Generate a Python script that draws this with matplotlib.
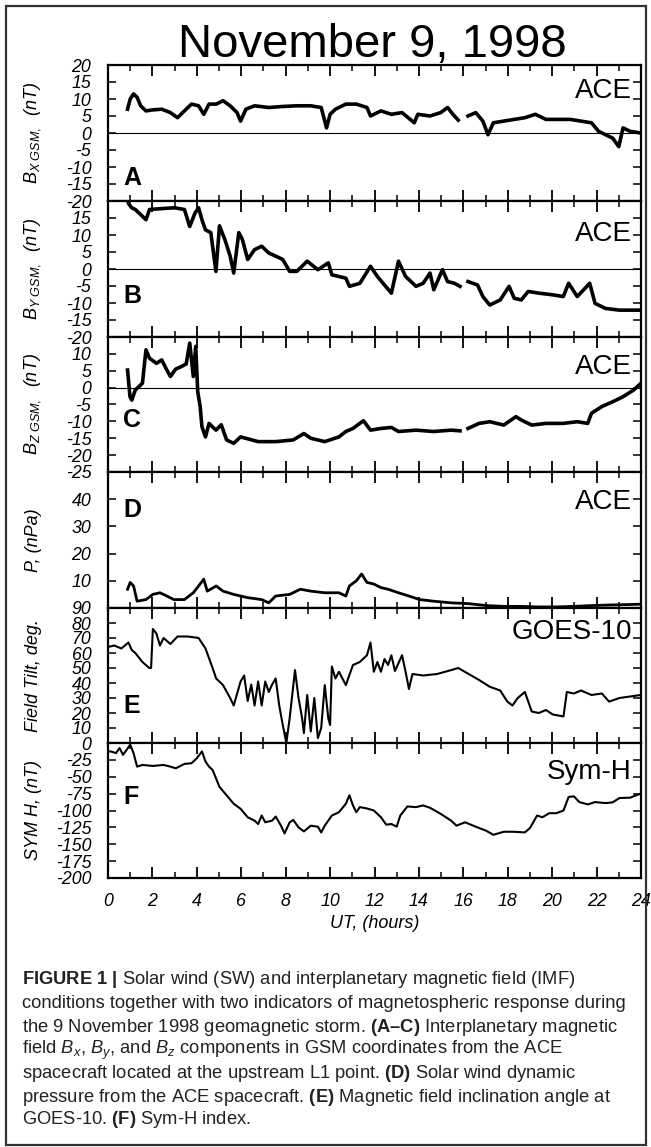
import numpy as np
import matplotlib
matplotlib.use('Agg')
import matplotlib.pyplot as plt
from matplotlib.patches import Rectangle
from matplotlib.ticker import MultipleLocator

plt.rcParams['font.family'] = ['Liberation Sans', 'DejaVu Sans']
plt.rcParams['mathtext.fontset'] = 'custom'
plt.rcParams['mathtext.rm'] = 'Liberation Sans'
plt.rcParams['mathtext.it'] = 'Liberation Sans:italic'
plt.rcParams['mathtext.bf'] = 'Liberation Sans:bold'

nan = np.nan

# ---------------- data ----------------
bx_t = [0.88,1.0,1.15,1.31,1.47,1.71,2.02,2.42,2.81,3.13,3.44,3.76,4.08,4.31,4.55,4.87,5.18,5.5,5.81,5.97,
        6.21,6.6,7.24,7.87,8.5,9.13,9.6,9.84,10.0,10.24,10.71,11.18,11.66,11.82,12.29,12.76,13.24,13.79,13.95,14.5,
        14.98,15.29,15.53,15.77,15.9,16.21,16.56,16.88,17.11,17.35,17.82,18.29,18.77,19.24,19.72,20.19,20.82,21.29,
        21.77,22.09,22.4,22.72,23.0,23.19,23.51,23.98]
bx_v = [7,10,11.5,10.5,8,6.5,6.8,7,6,4.5,6.5,8.5,8,5.5,8.5,8.5,9.5,8,6,3.5,
        7,8,7.5,7.8,8,8,7.5,1.5,5.5,7,8.5,8.5,7.5,5,6.5,5.5,6,3,5.5,5,
        6,7.5,5.5,3.8,nan,5,6,3.5,-0.5,3,3.5,4,4.5,5.5,4,4,4,3.5,
        3,0.5,-0.5,-1.5,-4,1.5,0.5,0]

by_t = [0.88,0.95,1.07,1.23,1.71,1.87,2.5,3.0,3.44,3.68,3.92,4.08,4.23,4.39,4.63,4.86,5.02,5.26,5.5,5.66,
        5.89,6.05,6.29,6.6,6.92,7.24,7.55,7.87,8.18,8.5,8.97,9.45,9.92,10.08,10.71,10.87,11.34,11.82,12.13,12.45,
        12.76,13.08,13.4,13.87,14.19,14.5,14.67,15.06,15.29,15.6,15.85,15.95,16.21,16.64,16.88,17.19,17.66,18.06,
        18.29,18.61,18.92,19.4,20.03,20.5,20.74,21.13,21.69,21.93,22.4,23.03,24.0]
by_v = [20,19,18,17.5,14.5,17.5,17.8,18,17.5,12.5,16.5,18,14.5,11.5,10.7,-0.7,12.7,8.7,3.8,-1.2,
        10.7,8.7,2.8,5.7,6.7,4.7,3.8,2.8,-0.7,-0.7,2.3,-0.2,1.8,-1.7,-2.7,-5.1,-4.2,0.8,-2.2,-4.7,
        -7.1,2.3,-2.2,-5.1,-4.2,-1.2,-6.1,-0.2,-3.7,-4.2,-5.1,nan,-3.7,-4.7,-8.1,-10.6,-9.1,-5.1,
        -8.6,-9.1,-6.6,-7.1,-7.6,-8.1,-4.2,-8.1,-4.2,-10.1,-11.6,-12.1,-12.1]

bz_t = [0.88,0.99,1.07,1.23,1.39,1.55,1.71,1.87,2.18,2.42,2.65,2.81,3.05,3.29,3.52,3.68,3.84,3.95,4.04,4.15,
        4.23,4.39,4.55,4.86,5.1,5.34,5.66,5.97,6.76,7.55,8.34,8.82,9.13,9.76,10.4,10.71,11.03,11.5,11.82,12.29,
        12.76,13.08,13.87,14.66,15.45,15.85,15.95,16.21,16.71,17.19,17.82,18.37,18.61,19.08,19.72,20.5,21.13,21.6,
        21.77,22.24,22.72,23.19,23.67,24.0]
bz_v = [5.2,-2.7,-3.7,-0.7,0.3,1.3,11.2,8.7,7.2,8.2,5.2,3.3,5.5,6.2,7,13.2,3.3,12.2,-1.2,-5.6,
        -11.6,-14.6,-10.6,-12.6,-11,-15.5,-16.5,-14.6,-16,-16,-15.5,-13.6,-15,-16,-14.6,-13,-12.1,-9.8,-12.6,-12.1,
        -11.8,-13,-12.6,-13,-12.6,-12.8,nan,-12.1,-10.6,-10.1,-11.1,-8.6,-9.6,-11.1,-10.6,-10.6,-10.1,-10.6,
        -7.6,-5.6,-4.2,-2.7,-0.7,1.3]

p_t = [0.88,1.0,1.15,1.31,1.71,2.02,2.34,2.65,2.97,3.44,3.84,4.08,4.31,4.47,4.87,5.18,5.66,6.29,6.92,7.24,
       7.55,8.18,8.66,9.13,9.76,10.40,10.71,10.87,11.18,11.42,11.66,11.97,12.29,12.61,13.08,13.55,14.03,14.66,15.45,
       16.24,17.03,17.82,18.61,19.40,20.19,20.98,21.77,22.56,23.35,23.98]
p_v = [6.9,9.4,8.1,2.5,3.1,5,5.6,4.4,3.1,3.1,5.6,8.1,10.6,6.2,8.1,6.2,5,3.8,3.1,1.9,
       4.4,5,6.9,6.2,5.6,5.6,4.4,8.1,10,12.5,9.4,8.8,7.5,6.9,5.6,4.4,3.1,2.5,1.9,
       1.6,0.9,0.6,0.6,0.4,0.4,0.6,0.9,1.1,1.25,1.4]

tilt_t = [0.0,0.28,0.60,0.92,1.07,1.23,1.55,1.86,1.94,2.02,2.18,2.34,2.50,2.81,3.13,3.60,4.08,4.39,4.71,4.87,
          5.18,5.50,5.66,5.97,6.13,6.29,6.45,6.60,6.76,6.92,7.08,7.24,7.39,7.55,7.71,7.87,8.03,8.18,8.42,8.58,
          8.74,8.82,8.97,9.13,9.29,9.45,9.60,9.76,9.92,10.0,10.08,10.24,10.40,10.71,11.03,11.34,11.66,11.82,11.97,
          12.13,12.29,12.45,12.61,12.76,12.92,13.24,13.40,13.55,13.71,14.19,14.82,15.45,15.77,16.24,16.71,17.19,
          17.66,17.98,18.21,18.45,18.77,19.08,19.40,19.72,20.03,20.51,20.66,20.98,21.30,21.77,22.24,22.56,23.03,
          23.51,23.98]
tilt_v = [64,65,63,67,62,60,54,50,50,76,73,65,70,66,71,71,70,63,50,43,
          38.6,30,25,41,45,28,39,25,41,25,41,34,39,43,25,12,0,16.5,48.6,30,
          16.5,6.6,32,7.7,30,3.3,10,38.6,16.5,12,51,43,47.5,38.6,52,54,58.5,67,47.5,
          54,47.5,56,52,58.5,48,58.5,47.5,36,46,45,46,48.6,50,46,42,37.5,
          35,27.6,25,30,34,21,20,22,19,17.7,34,33,35,32,33,27.6,30,
          31,32]

symh_t = [0,0.13,0.36,0.52,0.68,0.84,1.0,1.15,1.31,1.55,2.02,2.50,2.81,3.05,3.44,3.76,4.0,4.23,4.39,4.55,
          4.71,5.02,5.34,5.66,5.97,6.29,6.60,6.76,6.92,7.08,7.39,7.55,7.79,7.95,8.18,8.34,8.58,8.82,9.13,9.45,
          9.60,9.76,10.08,10.40,10.71,10.87,11.03,11.18,11.34,11.66,11.97,12.29,12.53,12.76,13.0,13.16,13.48,13.87,
          14.19,14.50,14.98,15.45,15.69,16.08,16.56,17.03,17.35,17.82,18.29,18.77,19.0,19.32,19.56,19.87,20.19,
          20.51,20.74,20.98,21.22,21.61,21.93,22.40,22.72,23.03,23.51,23.98]
symh_v = [-12.5,-12.5,-15,-7.5,-17.5,-10,-2.5,-15,-35,-32.5,-34,-32.5,-35,-37.5,-31,-30,-22.5,-12.5,-27.5,-35,
          -40,-65,-77.5,-90,-97.5,-110,-115,-120,-107.5,-117.5,-115,-109,-122.5,-134,-117.5,-114,-125,-131,-122.5,-124,
          -132.5,-122.5,-107.5,-102.5,-90,-77.5,-92.5,-102.5,-95,-97,-100,-110,-121,-120,-124,-107.5,-94,-95,
          -92.5,-96,-105,-115,-122.5,-117.5,-124,-130,-136,-131.5,-131.5,-132.5,-126,-107.5,-110,-104,-104,
          -100,-80,-79,-87.5,-91,-87.5,-89,-88,-81.5,-81,-75]

x_ticks = [0, 2, 4, 6, 8, 10, 12, 14, 16, 18, 20, 22, 24]
x_tick_labels = [str(v) for v in x_ticks]

title = "November 9, 1998"
xlabel = "UT, (hours)"

# ---------------- layout ----------------
W, H = 651, 1147
fig = plt.figure(figsize=(W / 100, H / 100), dpi=100)
fig.patch.set_facecolor('white')

AX_L, AX_R = 108, 641

panels = [
    dict(t=bx_t, v=bx_v, top=65, bot=201, ylim=(-20, 20), yt=list(range(-20, 21, 5)), hide=[],
         ylabel=r'$B_{X\ GSM,}$  (nT)', site='ACE', site_y=91, letter='A', letter_y=178, zero=True, lw=2.6),
    dict(t=by_t, v=by_v, top=201, bot=337, ylim=(-20, 20), yt=list(range(-20, 21, 5)), hide=[20],
         ylabel=r'$B_{Y\ GSM,}$  (nT)', site='ACE', site_y=234, letter='B', letter_y=296, zero=True, lw=2.6),
    dict(t=bz_t, v=bz_v, top=337, bot=472, ylim=(-25, 15), yt=list(range(-25, 16, 5)), hide=[15],
         ylabel=r'$B_{Z\ GSM,}$  (nT)', site='ACE', site_y=367, letter='C', letter_y=420, zero=True, lw=2.6),
    dict(t=p_t, v=p_v, top=472, bot=608, ylim=(0, 50), yt=list(range(0, 51, 10)), hide=[0, 50],
         ylabel='P, (nPa)', site='ACE', site_y=502, letter='D', letter_y=510, zero=False, lw=2.0),
    dict(t=tilt_t, v=tilt_v, top=608, bot=743, ylim=(0, 90), yt=list(range(0, 91, 10)), hide=[],
         ylabel='Field Tilt, deg.', site='GOES-10', site_y=632, letter='E', letter_y=706, zero=False, lw=1.5),
    dict(t=symh_t, v=symh_v, top=743, bot=878, ylim=(-200, 0), yt=list(range(-200, 1, 25)), hide=[0],
         ylabel='SYM H, (nT)', site='Sym-H', site_y=772, letter='F', letter_y=797, zero=False, lw=1.5),
]

for i, p in enumerate(panels):
    ax = fig.add_axes([AX_L / W, 1 - p['bot'] / H, (AX_R - AX_L) / W, (p['bot'] - p['top']) / H])
    ax.plot(p['t'], p['v'], color='black', lw=p['lw'], solid_joinstyle='round')
    if p['zero']:
        ax.axhline(0, color='black', lw=0.8, zorder=0)
    ax.set_xlim(0, 24)
    ax.set_ylim(*p['ylim'])
    ax.set_xticks(x_ticks)
    ax.xaxis.set_minor_locator(MultipleLocator(1))
    ax.set_yticks(p['yt'])
    ax.set_yticklabels(['' if v in p['hide'] else str(v) for v in p['yt']],
                       fontsize=12.8, fontstyle='italic')
    ax.tick_params(axis='x', which='major', direction='in', top=True, bottom=True, length=8, width=1.3)
    ax.tick_params(axis='x', which='minor', direction='in', top=True, bottom=True, length=4, width=1.1)
    ax.tick_params(axis='y', which='major', direction='in', left=True, right=True, length=6, width=1.1, pad=12)
    for s in ax.spines.values():
        s.set_linewidth(1.6)
    if i == len(panels) - 1:
        ax.set_xticklabels(x_tick_labels, fontsize=12.8, fontstyle='italic')
        ax.tick_params(axis='x', which='major', pad=11)
    else:
        ax.set_xticklabels([])
    fig.text(33 / W, 1 - (p['top'] + p['bot']) / 2 / H, p['ylabel'], rotation=90,
             ha='center', va='center', fontsize=13, fontstyle='italic')
    fig.text(632 / W, 1 - p['site_y'] / H, p['site'], ha='right', va='center', fontsize=20)
    fig.text(123 / W, 1 - p['letter_y'] / H, p['letter'], ha='left', va='center',
             fontsize=18, fontweight='bold')

fig.text(372 / W, 1 - 45 / H, title, ha='center', va='center', fontsize=34)
fig.text((AX_L + AX_R) / 2 / W, 1 - 924 / H, xlabel, ha='center', va='center', fontsize=13, fontstyle='italic')

caption = [
    r'$\mathbf{FIGURE\ 1\ |}$ Solar wind (SW) and interplanetary magnetic field (IMF)',
    'conditions together with two indicators of magnetospheric response during',
    r'the 9 November 1998 geomagnetic storm. $\mathbf{(A–C)}$ Interplanetary magnetic',
    r'field $B_x$, $B_y$, and $B_z$ components in GSM coordinates from the ACE',
    r'spacecraft located at the upstream L1 point. $\mathbf{(D)}$ Solar wind dynamic',
    r'pressure from the ACE spacecraft. $\mathbf{(E)}$ Magnetic field inclination angle at',
    r'GOES-10. $\mathbf{(F)}$ Sym-H index.',
]
cap_y = [980, 1003, 1027, 1050, 1073, 1097, 1120]
for line, yy in zip(caption, cap_y):
    fig.text(22 / W, 1 - yy / H, line, ha='left', va='center', fontsize=13.2, color='#222222')

fig.patches.append(Rectangle((6 / W, 2 / H), (646 - 6) / W, (1141 - 2) / H, transform=fig.transFigure,
                             fill=False, edgecolor='#333333', lw=1.6))

fig.savefig('out.png', dpi=100)
